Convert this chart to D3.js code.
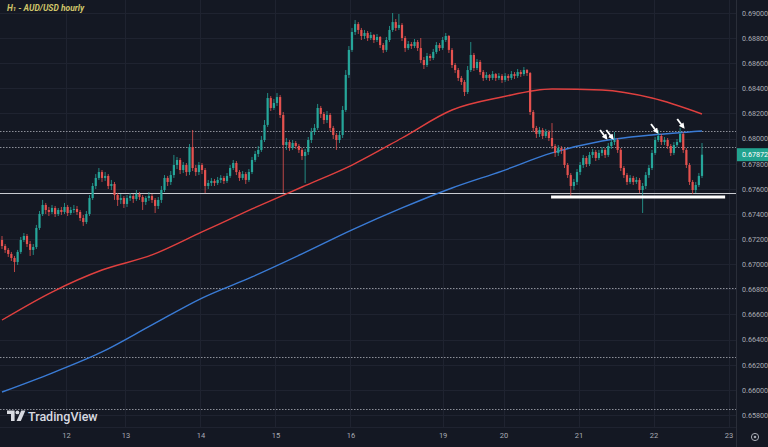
<!DOCTYPE html>
<html>
<head>
<meta charset="utf-8">
<script src="https://cdn.jsdelivr.net/npm/d3@7"></script>
<style>
  html, body { margin: 0; padding: 0; background: #141823; }
  svg { display: block; }
  text { font-family: Roboto, "Noto Sans", sans-serif; }
</style>
</head>
<body>
<svg id="chart" width="768" height="447"></svg>
<script>
// hourly AUD/USD candles (open of each bar = previous close)
var firstOpen = 0.67193;
var close = [
  0.67145,0.67114,0.67082,0.67050,0.67018,0.67098,0.67193,0.67225,0.67161,0.67114,
  0.67137,0.67289,0.67400,0.67472,0.67432,0.67416,0.67448,0.67400,0.67432,0.67416,
  0.67456,0.67408,0.67432,0.67440,0.67416,0.67368,0.67336,0.67400,0.67527,0.67623,
  0.67687,0.67734,0.67687,0.67703,0.67623,0.67639,0.67551,0.67512,0.67527,0.67480,
  0.67527,0.67543,0.67520,0.67559,0.67535,0.67496,0.67527,0.67543,0.67512,0.67464,
  0.67512,0.67591,0.67687,0.67655,0.67710,0.67790,0.67830,0.67750,0.67790,0.67734,
  0.67933,0.67766,0.67734,0.67790,0.67750,0.67623,0.67647,0.67663,0.67647,0.67671,
  0.67687,0.67663,0.67703,0.67766,0.67806,0.67734,0.67687,0.67718,0.67671,0.67734,
  0.67830,0.67878,0.67910,0.67989,0.68109,0.68323,0.68244,0.68284,0.68331,0.68188,
  0.67949,0.67973,0.67925,0.67965,0.67941,0.67910,0.67862,0.67894,0.67989,0.68053,
  0.68085,0.68244,0.68196,0.68148,0.68188,0.68085,0.68029,0.67989,0.68029,0.68228,
  0.68507,0.68706,0.68849,0.68912,0.68865,0.68817,0.68841,0.68801,0.68825,0.68785,
  0.68809,0.68745,0.68706,0.68785,0.68865,0.68928,0.68881,0.68905,0.68801,0.68721,
  0.68753,0.68737,0.68769,0.68721,0.68626,0.68586,0.68658,0.68642,0.68690,0.68745,
  0.68721,0.68785,0.68817,0.68706,0.68586,0.68546,0.68483,0.68451,0.68371,0.68546,
  0.68666,0.68562,0.68610,0.68530,0.68483,0.68507,0.68483,0.68514,0.68483,0.68499,
  0.68467,0.68499,0.68483,0.68514,0.68499,0.68530,0.68514,0.68546,0.68522,0.68212,
  0.68085,0.68037,0.68069,0.68021,0.68053,0.68005,0.67941,0.67886,0.67925,0.67910,
  0.67790,0.67710,0.67623,0.67655,0.67734,0.67790,0.67846,0.67798,0.67870,0.67894,
  0.67846,0.67886,0.67910,0.67870,0.67941,0.67973,0.67989,0.67910,0.67766,0.67710,
  0.67655,0.67687,0.67655,0.67671,0.67591,0.67623,0.67710,0.67766,0.67886,0.67989,
  0.68021,0.67973,0.67989,0.67941,0.67886,0.67949,0.67973,0.68037,0.67910,0.67790,
  0.67655,0.67591,0.67631,0.67703,0.67872
];
var high = [
  0.67225,0.67161,0.67129,0.67098,0.67066,0.67114,0.67217,0.67249,0.67241,0.67185,
  0.67161,0.67313,0.67424,0.67512,0.67488,0.67456,0.67472,0.67464,0.67448,0.67456,
  0.67488,0.67472,0.67456,0.67472,0.67464,0.67432,0.67392,0.67424,0.67551,0.67647,
  0.67718,0.67766,0.67750,0.67734,0.67718,0.67671,0.67655,0.67567,0.67559,0.67543,
  0.67551,0.67567,0.67559,0.67591,0.67575,0.67551,0.67543,0.67575,0.67559,0.67527,
  0.67535,0.67623,0.67710,0.67703,0.67742,0.67870,0.67854,0.67846,0.67814,0.67806,
  0.67957,0.68069,0.67790,0.67814,0.67806,0.67766,0.67671,0.67687,0.67679,0.67695,
  0.67710,0.67703,0.67726,0.67790,0.67830,0.67822,0.67750,0.67742,0.67734,0.67758,
  0.67854,0.67902,0.67941,0.68021,0.68148,0.68363,0.68339,0.68316,0.68363,0.68347,
  0.68212,0.68005,0.67989,0.67989,0.67981,0.67957,0.67925,0.67918,0.68013,0.68085,
  0.68116,0.68276,0.68260,0.68212,0.68220,0.68204,0.68101,0.68045,0.68053,0.68260,
  0.68546,0.68737,0.68881,0.68944,0.68928,0.68881,0.68865,0.68857,0.68849,0.68833,
  0.68833,0.68817,0.68761,0.68809,0.68897,0.69000,0.68952,0.68992,0.68920,0.68817,
  0.68777,0.68769,0.68793,0.68785,0.68801,0.68650,0.68682,0.68674,0.68714,0.68769,
  0.68761,0.68809,0.68841,0.68825,0.68721,0.68602,0.68562,0.68499,0.68467,0.68578,
  0.68769,0.68682,0.68634,0.68626,0.68546,0.68530,0.68514,0.68538,0.68522,0.68522,
  0.68514,0.68522,0.68514,0.68538,0.68530,0.68554,0.68546,0.68570,0.68554,0.68530,
  0.68228,0.68101,0.68093,0.68085,0.68077,0.68069,0.68124,0.67957,0.67949,0.67941,
  0.67925,0.67806,0.67726,0.67679,0.67758,0.67814,0.67870,0.67862,0.67894,0.67918,
  0.67910,0.67910,0.67933,0.67925,0.67965,0.67997,0.68053,0.68005,0.67925,0.67782,
  0.67726,0.67710,0.67703,0.67695,0.67687,0.67647,0.67734,0.67790,0.67910,0.68013,
  0.68069,0.68037,0.68013,0.68005,0.67957,0.67973,0.67997,0.68085,0.68053,0.67925,
  0.67806,0.67671,0.67655,0.67726,0.67965
];
var low = [
  0.67121,0.67090,0.67058,0.67026,0.66938,0.66994,0.67082,0.67177,0.67137,0.67066,
  0.67074,0.67121,0.67273,0.67384,0.67400,0.67384,0.67400,0.67376,0.67384,0.67392,
  0.67400,0.67384,0.67392,0.67408,0.67392,0.67344,0.67305,0.67320,0.67384,0.67512,
  0.67599,0.67671,0.67655,0.67663,0.67599,0.67591,0.67512,0.67464,0.67480,0.67448,
  0.67456,0.67504,0.67488,0.67504,0.67512,0.67432,0.67472,0.67504,0.67488,0.67408,
  0.67440,0.67488,0.67575,0.67623,0.67631,0.67687,0.67758,0.67718,0.67726,0.67703,
  0.67710,0.67742,0.67703,0.67710,0.67718,0.67567,0.67599,0.67623,0.67623,0.67631,
  0.67647,0.67639,0.67647,0.67687,0.67750,0.67710,0.67663,0.67671,0.67639,0.67655,
  0.67718,0.67814,0.67854,0.67894,0.67973,0.68093,0.68220,0.68228,0.68260,0.68164,
  0.67567,0.67910,0.67902,0.67910,0.67918,0.67886,0.67830,0.67647,0.67870,0.67965,
  0.68029,0.68069,0.68164,0.68116,0.68124,0.68061,0.67997,0.67910,0.67965,0.68005,
  0.68212,0.68483,0.68690,0.68825,0.68833,0.68785,0.68793,0.68777,0.68785,0.68761,
  0.68769,0.68721,0.68682,0.68690,0.68769,0.68849,0.68857,0.68865,0.68777,0.68690,
  0.68706,0.68714,0.68721,0.68698,0.68602,0.68554,0.68570,0.68618,0.68626,0.68674,
  0.68698,0.68706,0.68769,0.68682,0.68562,0.68522,0.68459,0.68427,0.68339,0.68355,
  0.68530,0.68538,0.68546,0.68507,0.68459,0.68467,0.68459,0.68467,0.68459,0.68467,
  0.68443,0.68451,0.68459,0.68467,0.68475,0.68483,0.68491,0.68499,0.68499,0.68188,
  0.68053,0.68005,0.68013,0.67997,0.68005,0.67981,0.67918,0.67854,0.67862,0.67878,
  0.67766,0.67687,0.67527,0.67591,0.67631,0.67710,0.67766,0.67774,0.67782,0.67846,
  0.67822,0.67830,0.67862,0.67846,0.67854,0.67918,0.67949,0.67886,0.67742,0.67687,
  0.67631,0.67639,0.67631,0.67639,0.67567,0.67408,0.67599,0.67687,0.67750,0.67870,
  0.67973,0.67949,0.67949,0.67918,0.67862,0.67870,0.67933,0.67965,0.67886,0.67766,
  0.67631,0.67559,0.67567,0.67615,0.67687
];

// moving averages, sampled every 16 bars
var maIdx  = [0, 16, 32, 48, 64, 80, 96, 112, 128, 144, 160, 176, 192, 208, 224];
var maRed  = [0.66556,0.66779,0.66954,0.67074,0.67257,0.67440,0.67615,0.67790,0.68005,0.68228,0.68331,0.68395,0.68387,0.68323,0.68196];
var maBlue = [0.65983,0.66134,0.66302,0.66517,0.66731,0.66899,0.67082,0.67273,0.67448,0.67607,0.67742,0.67886,0.67981,0.68029,0.68061];

// axis ticks
var yTicks = [0.690,0.688,0.686,0.684,0.682,0.680,0.678,0.676,0.674,0.672,0.670,0.668,0.666,0.664,0.662,0.660,0.658];
var dayIdx = [20.5, 39.5, 63.5, 87.5, 111.5, 141, 160.5, 184.5, 208.5, 232.5];
var dayLabels = ["12","13","14","15","16","19","20","21","22","23"];

// drawn levels
var dottedLevels = [0.68061, 0.67933, 0.66811, 0.66262, 0.65848];
var solidLevel = 0.67567;
var supportLevel = 0.67535, supportFrom = 175.7, supportTo = 231.4;
var arrowIdx   = [193.3, 195.3, 209.6, 218.0];
var arrowPrice = [0.68005, 0.68005, 0.68053, 0.68093];

var W = 768, H = 447, plotW = 736, plotH = 427;
var svg = d3.select("#chart");

var x = d3.scaleLinear().domain([0, 235]).range([2, 2 + 235 * 3.125]);
var y = d3.scaleLinear().domain([0.658, 0.690]).range([415, 13]);

svg.append("rect").attr("width", W).attr("height", H).attr("fill", "#141823");

svg.append("defs").append("clipPath").attr("id", "plot")
  .append("rect").attr("width", plotW).attr("height", plotH);

var g = svg.append("g").attr("clip-path", "url(#plot)");

// grid
g.selectAll("line.hgrid").data(yTicks).enter().append("line")
  .attr("class", "hgrid")
  .attr("x1", 0).attr("x2", plotW)
  .attr("y1", function(d) { return Math.round(y(d)) + 0.5; })
  .attr("y2", function(d) { return Math.round(y(d)) + 0.5; })
  .attr("stroke", "#1f2330").attr("stroke-width", 1);
g.selectAll("line.vgrid").data(dayIdx).enter().append("line")
  .attr("class", "vgrid")
  .attr("x1", function(d) { return Math.round(x(d)) + 0.5; })
  .attr("x2", function(d) { return Math.round(x(d)) + 0.5; })
  .attr("y1", 0).attr("y2", plotH)
  .attr("stroke", "#1f2330").attr("stroke-width", 1);

// levels
g.selectAll("line.dot").data(dottedLevels).enter().append("line")
  .attr("class", "dot")
  .attr("x1", 0).attr("x2", plotW)
  .attr("y1", function(d) { return Math.round(y(d)) + 0.5; })
  .attr("y2", function(d) { return Math.round(y(d)) + 0.5; })
  .attr("stroke", "#8c8f99").attr("stroke-width", 1)
  .attr("stroke-dasharray", "1.5,1.5");
g.append("line")
  .attr("x1", 0).attr("x2", plotW)
  .attr("y1", Math.round(y(solidLevel)) + 0.5).attr("y2", Math.round(y(solidLevel)) + 0.5)
  .attr("stroke", "#c9cbd1").attr("stroke-width", 1);

// moving averages
var maLine = d3.line()
  .x(function(d) { return x(d[0]); })
  .y(function(d) { return y(d[1]); })
  .curve(d3.curveMonotoneX);
g.append("path").datum(d3.zip(maIdx, maRed))
  .attr("d", maLine).attr("fill", "none")
  .attr("stroke", "#e0403f").attr("stroke-width", 1.4);
g.append("path").datum(d3.zip(maIdx, maBlue))
  .attr("d", maLine).attr("fill", "none")
  .attr("stroke", "#3a7bd5").attr("stroke-width", 1.4);

// candles
var bars = close.map(function(c, i) {
  return { i: i, o: i === 0 ? firstOpen : close[i - 1], c: c, h: high[i], l: low[i] };
});
var up = "#26a69a", down = "#e5524f";
var candle = g.selectAll("g.candle").data(bars).enter().append("g").attr("class", "candle");
candle.append("line")
  .attr("x1", function(d) { return x(d.i); })
  .attr("x2", function(d) { return x(d.i); })
  .attr("y1", function(d) { return y(Math.max(d.h, d.o, d.c)); })
  .attr("y2", function(d) { return y(Math.min(d.l, d.o, d.c)); })
  .attr("stroke", function(d) { return d.c >= d.o ? up : down; })
  .attr("stroke-width", 0.8);
candle.append("rect")
  .attr("x", function(d) { return x(d.i) - 1.1; })
  .attr("width", 2.2)
  .attr("y", function(d) { return y(Math.max(d.o, d.c)); })
  .attr("height", function(d) { return Math.max(1, Math.abs(y(d.o) - y(d.c))); })
  .attr("fill", function(d) { return d.c >= d.o ? up : down; });

// support line drawn on the chart
g.append("line")
  .attr("x1", x(supportFrom)).attr("x2", x(supportTo))
  .attr("y1", y(supportLevel)).attr("y2", y(supportLevel))
  .attr("stroke", "#ffffff").attr("stroke-width", 3);

// arrows
svg.select("defs").append("marker")
  .attr("id", "head").attr("viewBox", "0 0 10 10")
  .attr("refX", 6).attr("refY", 5)
  .attr("markerWidth", 3.2).attr("markerHeight", 3.2)
  .attr("orient", "auto")
  .append("path").attr("d", "M0,0 L10,5 L0,10 z").attr("fill", "#ffffff");
g.selectAll("line.arrow").data(d3.zip(arrowIdx, arrowPrice)).enter().append("line")
  .attr("class", "arrow")
  .attr("x1", function(d) { return x(d[0]) - 6; })
  .attr("y1", function(d) { return y(d[1]) - 8; })
  .attr("x2", function(d) { return x(d[0]); })
  .attr("y2", function(d) { return y(d[1]); })
  .attr("stroke", "#ffffff").attr("stroke-width", 1.8)
  .attr("marker-end", "url(#head)");

// separators
svg.append("line").attr("x1", plotW + 0.5).attr("x2", plotW + 0.5)
  .attr("y1", 0).attr("y2", H).attr("stroke", "#2a2e39");
svg.append("line").attr("x1", 0).attr("x2", plotW)
  .attr("y1", plotH + 0.5).attr("y2", plotH + 0.5).attr("stroke", "#1f2330");

// price axis
var yAxis = svg.append("g").attr("transform", "translate(" + plotW + ",0)")
  .call(d3.axisRight(y).tickValues(yTicks).tickFormat(d3.format(".5f")).tickSize(0).tickPadding(6));
yAxis.select(".domain").remove();
yAxis.selectAll("text").attr("fill", "#a9acb5").style("font-size", "7.2px");

// time axis
var xAxis = svg.append("g").attr("transform", "translate(0," + plotH + ")")
  .call(d3.axisBottom(x).tickValues(dayIdx)
    .tickFormat(function(d, i) { return dayLabels[i]; }).tickSize(0).tickPadding(6));
xAxis.select(".domain").remove();
xAxis.selectAll("text").attr("fill", "#a9acb5").style("font-size", "7.5px");

// last price tag
var last = close[close.length - 1];
svg.append("rect").attr("x", plotW + 1).attr("y", y(last) - 6.5)
  .attr("width", W - plotW - 1).attr("height", 13).attr("fill", "#22a38f");
svg.append("text").attr("x", plotW + 6).attr("y", y(last) + 2.6)
  .attr("fill", "#ffffff").style("font-size", "7.2px")
  .text(d3.format(".5f")(last));

// settings icon
svg.append("circle").attr("cx", 755).attr("cy", 437).attr("r", 3.6)
  .attr("fill", "none").attr("stroke", "#a9acb5").attr("stroke-width", 1);
svg.append("circle").attr("cx", 755).attr("cy", 437).attr("r", 1.3).attr("fill", "#a9acb5");

// title
var title = svg.append("text").attr("x", 7).attr("y", 11)
  .attr("fill", "#cfc56a").style("font-size", "8.5px")
  .style("font-weight", "bold").style("font-style", "italic");
title.append("tspan").text("H");
title.append("tspan").style("font-size", "6px").text("1");
title.append("tspan").text(" - AUD/USD hourly");

// TradingView mark
var logo = svg.append("g").attr("fill", "#d8dae0");
logo.append("path").attr("d", "M7,410.5 h7.6 v10.5 h-3.6 v-7 h-4 z");
logo.append("circle").attr("cx", 17.4).attr("cy", 412.4).attr("r", 1.9);
logo.append("path").attr("d", "M21.2,410.5 h4.2 l-4.6,10.5 h-4.2 z");
svg.append("text").attr("x", 28).attr("y", 420.5)
  .attr("fill", "#d8dae0").style("font-size", "12.5px").style("font-weight", "500")
  .text("TradingView");
</script>
</body>
</html>
